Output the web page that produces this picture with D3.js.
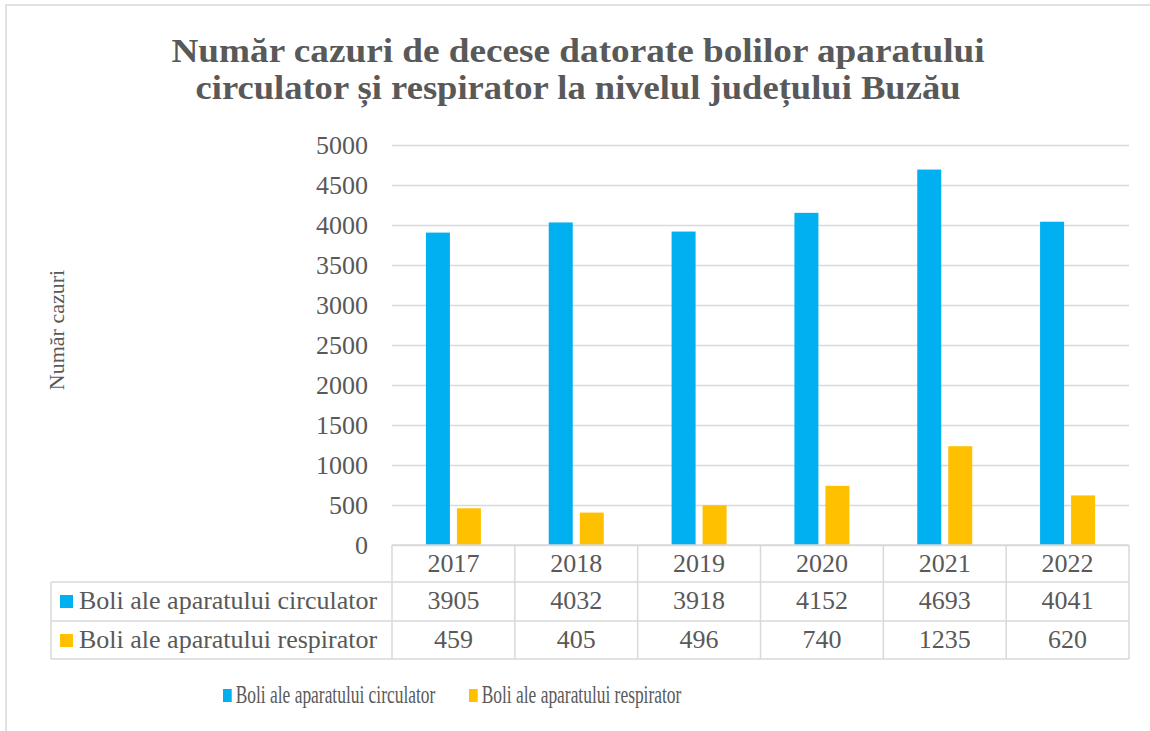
<!DOCTYPE html>
<meta charset="utf-8">
<script src="https://d3js.org/d3.v7.min.js"></script>
<style>
  body { margin: 0; background: #fff; }
  text { font-family: "Liberation Serif", "Times New Roman", serif; fill: #595959; }
</style>
<div id="my_dataviz"></div>
<script>
  // data
  var years = ["2017", "2018", "2019", "2020", "2021", "2022"];
  var seriesNames = ["Boli ale aparatului circulator", "Boli ale aparatului respirator"];
  var circulator = [3905, 4032, 3918, 4152, 4693, 4041];
  var respirator = [459, 405, 496, 740, 1235, 620];
  var yTicks = [0, 500, 1000, 1500, 2000, 2500, 3000, 3500, 4000, 4500, 5000];
  var colors = ["#00B0F0", "#FFC000"];
  var titleLines = ["Număr cazuri de decese datorate bolilor aparatului",
                    "circulator și respirator la nivelul județului Buzău"];
  var yTitle = "Număr cazuri";

  var W = 1150, H = 731;
  var plot = { left: 392, right: 1129, top: 145, bottom: 545 };
  var rowH = [545, 582, 621, 659];
  var labelLeft = 51;
  var grid = "#D9D9D9";

  var svg = d3.select("#my_dataviz").append("svg")
    .attr("width", W).attr("height", H);

  // chart border
  svg.append("rect").attr("x", 6).attr("y", 5).attr("width", W).attr("height", H)
    .attr("fill", "none").attr("stroke", grid).attr("stroke-width", 1.5);

  // title (two lines, stretched to the original width)
  var titleW = [813, 765];
  svg.append("g").selectAll("text").data(titleLines).enter().append("text")
    .attr("x", 578).attr("y", function(d, i) { return 62 + i * 37; })
    .attr("text-anchor", "middle").style("font-size", "34px").style("font-weight", "bold")
    .attr("textLength", function(d, i) { return titleW[i]; })
    .attr("lengthAdjust", "spacingAndGlyphs")
    .text(function(d) { return d; });

  // scales
  var x0 = d3.scaleBand().domain(years).range([plot.left, plot.right]).padding(0);
  var step = 31, bw = 24;
  var pi = (step - bw) / step;
  var po = (x0.bandwidth() / step - 2 + pi) / 2;
  var x1 = d3.scaleBand().domain(seriesNames).range([0, x0.bandwidth()])
    .paddingInner(pi).paddingOuter(po);
  var y = d3.scaleLinear().domain([0, 5000]).range([plot.bottom, plot.top]);

  // gridlines + y axis labels
  var yAxis = d3.axisLeft(y).tickValues(yTicks).tickFormat(d3.format("d"))
    .tickSize(-(plot.right - plot.left)).tickPadding(24);
  var gy = svg.append("g").attr("transform", "translate(" + plot.left + ",0)").call(yAxis);
  gy.attr("font-family", null).attr("font-size", null);
  gy.select(".domain").remove();
  gy.selectAll("line").attr("stroke", grid).attr("stroke-width", 1.5);
  gy.selectAll("text").style("font-size", "26px").attr("fill", "#595959");

  // y title
  svg.append("text").attr("transform", "translate(64,330) rotate(-90)")
    .attr("text-anchor", "middle").style("font-size", "22px").text(yTitle);

  // bars
  var rows = [circulator, respirator];
  var barData = [];
  rows.forEach(function(vals, s) {
    vals.forEach(function(v, i) { barData.push({ year: years[i], s: s, value: v }); });
  });
  svg.append("g").selectAll("rect").data(barData).enter().append("rect")
    .attr("x", function(d) { return x0(d.year) + x1(seriesNames[d.s]); })
    .attr("y", function(d) { return y(d.value); })
    .attr("width", x1.bandwidth())
    .attr("height", function(d) { return y(0) - y(d.value); })
    .attr("fill", function(d) { return colors[d.s]; });

  // data table
  var tg = svg.append("g").attr("stroke", grid).attr("stroke-width", 1.5);
  // horizontal lines
  tg.append("line").attr("x1", plot.left).attr("x2", plot.right).attr("y1", rowH[0]).attr("y2", rowH[0]);
  for (var r = 1; r < rowH.length; r++) {
    tg.append("line").attr("x1", labelLeft).attr("x2", plot.right).attr("y1", rowH[r]).attr("y2", rowH[r]);
  }
  // vertical lines
  tg.append("line").attr("x1", labelLeft).attr("x2", labelLeft).attr("y1", rowH[1]).attr("y2", rowH[3]);
  years.concat(["end"]).forEach(function(yr, i) {
    var xx = i < years.length ? x0(yr) : plot.right;
    tg.append("line").attr("x1", xx).attr("x2", xx).attr("y1", rowH[0]).attr("y2", rowH[3]);
  });

  var cellText = svg.append("g").style("font-size", "26px");
  cellText.selectAll(".yr").data(years).enter().append("text")
    .attr("x", function(d) { return x0(d) + x0.bandwidth() / 2; })
    .attr("y", 572).attr("text-anchor", "middle").text(function(d) { return d; });
  rows.forEach(function(vals, s) {
    var base = [609, 648][s];
    cellText.selectAll(".v" + s).data(vals).enter().append("text")
      .attr("x", function(d, i) { return x0(years[i]) + x0.bandwidth() / 2; })
      .attr("y", base).attr("text-anchor", "middle").text(function(d) { return d; });
    svg.append("rect").attr("x", 60).attr("y", base - 14).attr("width", 13).attr("height", 13)
      .attr("fill", colors[s]);
    cellText.append("text").attr("x", 79).attr("y", base).text(seriesNames[s]);
  });

  // legend (squeezed horizontally like the original)
  var legX = [223, 469];
  seriesNames.forEach(function(name, s) {
    var g = svg.append("g").attr("transform", "translate(" + legX[s] + ",703) scale(0.67,1)");
    g.append("rect").attr("x", 0).attr("y", -14).attr("width", 13).attr("height", 13).attr("fill", colors[s]);
    g.append("text").attr("x", 19).attr("y", 0).style("font-size", "26px").text(name);
  });
</script>
